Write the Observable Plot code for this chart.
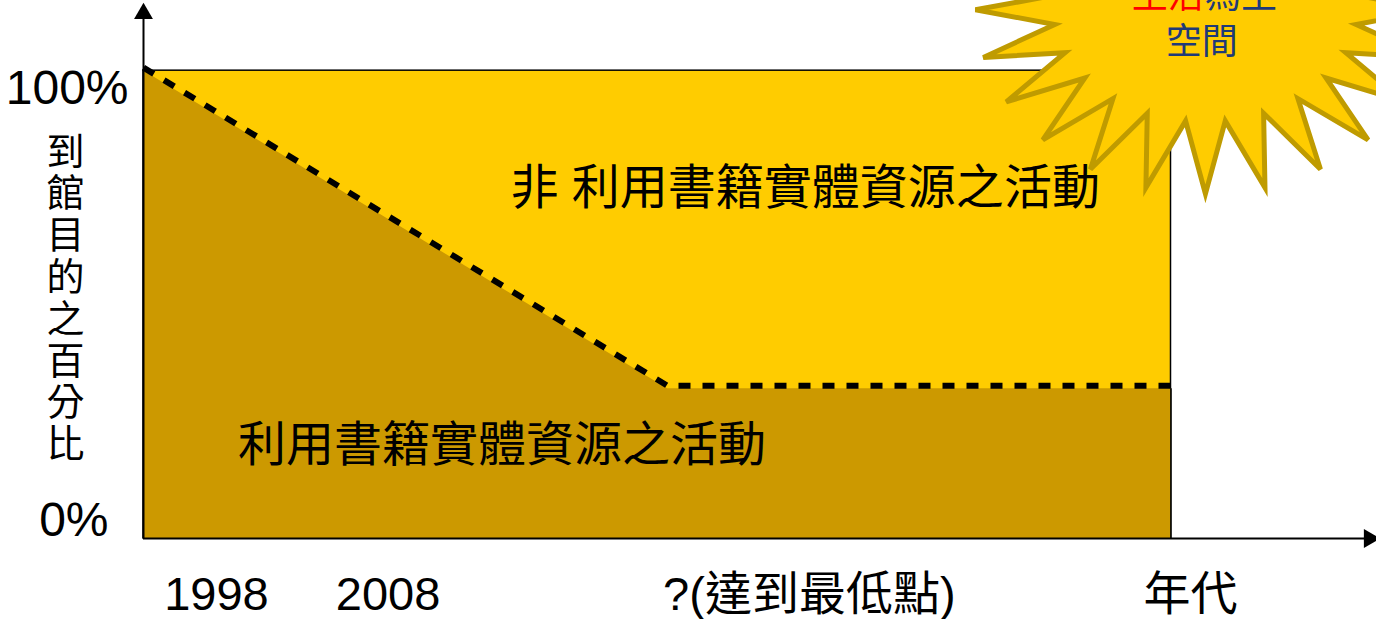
<!DOCTYPE html>
<html><head><meta charset="utf-8">
<script src="https://cdn.jsdelivr.net/npm/d3@7"></script>
<script src="https://cdn.jsdelivr.net/npm/@observablehq/plot@0.6"></script>
<style>body{margin:0;background:#fff} svg{display:block}</style>
</head><body><div id="chart"></div>
<script>
// ---- data (abstract time index on x, percent on y) ----
const timeIndex = [0, 51, 100];
const physicalShare = [100, 32, 32];
const totalShare = 100;
const timeEnd = 100;
const xTickLabels = ["1998", "2008", "?(達到最低點)", "年代"];
const xTickAt = [7.1, 23.8, 64.8, 101.9];
const yTickLabels = ["100%", "0%"];
const yTickAt = [100, 0];
const yTitle = "到館目的之百分比";
const regionLabels = ["非 利用書籍實體資源之活動", "利用書籍實體資源之活動"];
const regionLabelX = [64.4, 34.9];
const regionLabelY = [74.8, 19.9];
const burstRedText = "生活";
const burstBlueText = "為主";
const burstLine2 = "空間";

const FONT = "'Liberation Sans', 'Noto Sans CJK TC', Arial, sans-serif";
const series = timeIndex.map((t, i) => ({t, v: physicalShare[i]}));
const xTicks = xTickLabels.map((label, i) => ({label, x: xTickAt[i]}));
const yTicks = yTickLabels.map((label, i) => ({label, y: yTickAt[i]}));
const regions = regionLabels.map((label, i) => ({label, x: regionLabelX[i], y: regionLabelY[i]}));

const burstCenter = [103.4, 112.9];
function starburst(index, scales) {
  const cx = scales.x(burstCenter[0]), cy = scales.y(burstCenter[1]);
  const n = 24, rxO = 230, rxI = 152, ryO = 184, ryI = 112;
  const pts = [];
  for (let i = 0; i < 2 * n; i++) {
    const a = Math.PI / 2 + i * Math.PI / n;
    const outer = i % 2 === 0;
    pts.push([cx + (outer ? rxO : rxI) * Math.cos(a), cy + (outer ? ryO : ryI) * Math.sin(a)]);
  }
  return d3.create("svg:polygon")
    .attr("points", pts.map(p => p.join(",")).join(" "))
    .attr("fill", "#FFCC00").attr("stroke", "#BF9B00")
    .attr("stroke-width", 5).attr("stroke-linejoin", "miter").node();
}

const chart = Plot.plot({
  width: 1376, height: 619,
  marginLeft: 143, marginRight: 0, marginTop: 0, marginBottom: 81,
  x: {domain: [0, 120], axis: null},
  y: {domain: [0, 115], axis: null},
  style: {fontFamily: FONT, background: "#fff", overflow: "hidden"},
  marks: [
    Plot.rect([0], {x1: 0, x2: timeEnd, y1: 0, y2: totalShare, fill: "#FFCC00", stroke: "#000", strokeWidth: 1.5}),
    Plot.areaY(series, {x: "t", y: "v", fill: "#CC9900"}),
    Plot.ruleX([timeEnd], {y1: 0, y2: 32, stroke: "#000", strokeWidth: 1.5}),
    Plot.line(series, {x: "t", y: "v", dy: -3, stroke: "#000", strokeWidth: 6, strokeDasharray: "12,12", strokeLinecap: "butt"}),
    Plot.text(regions, {x: "x", y: "y", text: "label", fontSize: 48, fill: "#000"}),
    Plot.ruleY([0], {x1: 0, x2: 119, stroke: "#000", strokeWidth: 2}),
    Plot.ruleX([0], {y1: 0, y2: 112, stroke: "#000", strokeWidth: 2}),
    Plot.dot([0], {x: 0, y: 112.2, symbol: "triangle", r: 7, fill: "#000", stroke: null}),
    Plot.dot([0], {x: 119.3, y: 0, symbol: "triangle", r: 7, rotate: 90, fill: "#000", stroke: null}),
    Plot.text(yTicks.slice(0, 1), {x: 0, y: "y", text: "label", fontSize: 48, textAnchor: "end", dx: -15, dy: 18, fill: "#000"}),
    Plot.text(yTicks.slice(1), {x: 0, y: "y", text: "label", fontSize: 48, textAnchor: "end", dx: -35, dy: -18, fill: "#000"}),
    Plot.text(xTicks, {x: "x", y: 0, text: "label", fontSize: 47, dy: 56, fill: "#000"}),
    Plot.text([yTitle], {x: 0, y: 51.5, text: d => d.split("").join("\n"), fontSize: 38, lineHeight: 1.1, dx: -78, fill: "#000"}),
    starburst,
    Plot.text([burstRedText], {x: 103.2, y: 115.8, text: d => d, fontSize: 36, textAnchor: "end", fill: "#FF0000"}),
    Plot.text([burstBlueText], {x: 103.3, y: 115.8, text: d => d, fontSize: 36, textAnchor: "start", fill: "#1F3A78"}),
    Plot.text([burstLine2], {x: 103.0, y: 106, text: d => d, fontSize: 36, fill: "#1F3A78"})
  ]
});
document.getElementById("chart").append(chart);
</script>
</body></html>
